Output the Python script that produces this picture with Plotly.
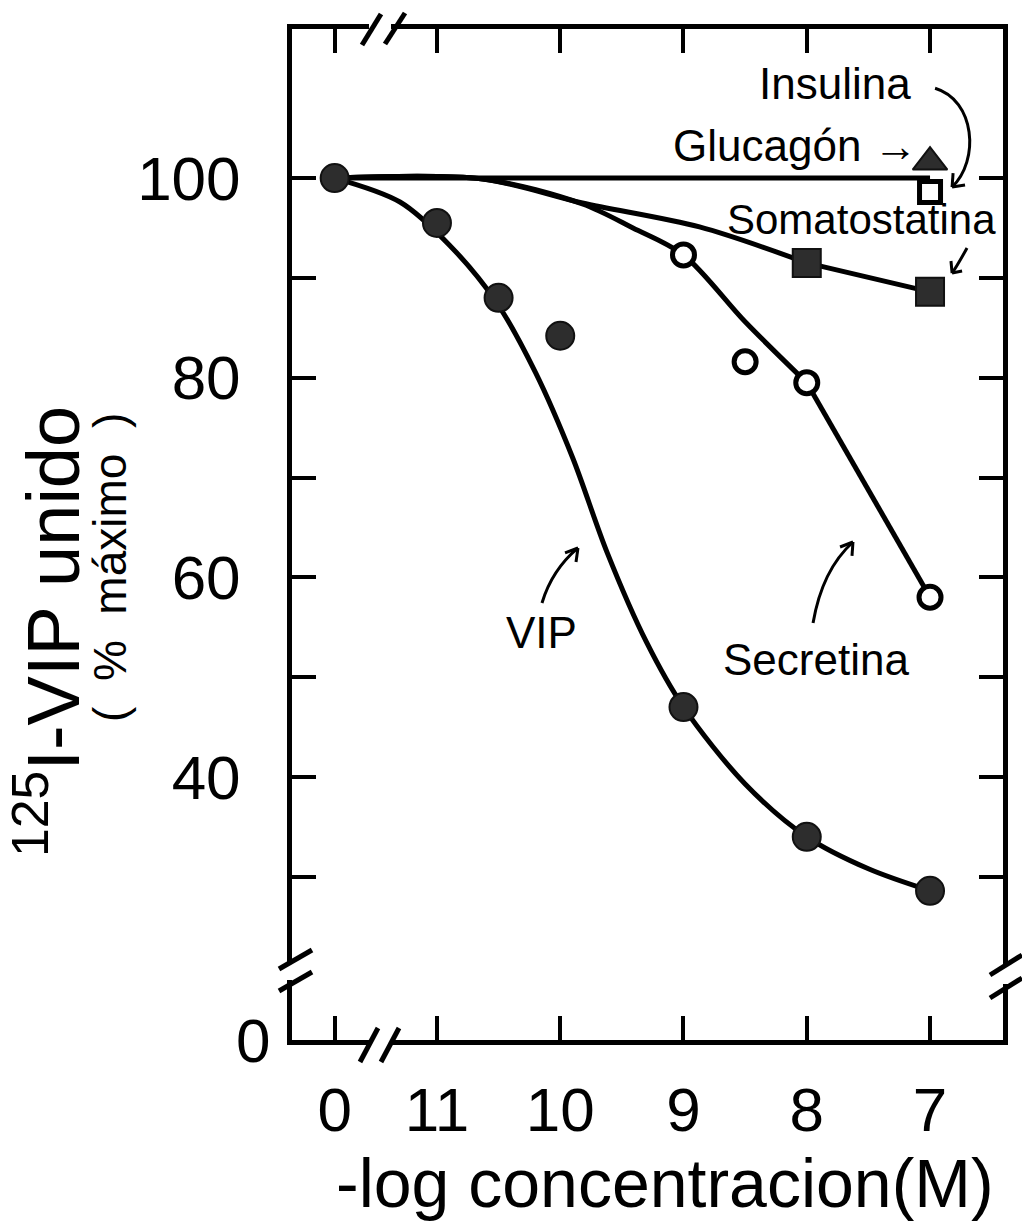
import plotly.graph_objects as go

# ---- axis definitions -------------------------------------------------------
# x is -log[M]; the control (no competitor) sits left of the axis break
CONTROL_POS = 11.83
X_TICK_POS = [CONTROL_POS, 11, 10, 9, 8, 7]
X_TICK_TEXT = ["0", "11", "10", "9", "8", "7"]
Y_TICK_VALS = [100, 90, 80, 70, 60, 50, 40, 30]
Y_TICK_TEXT = ["100", "", "80", "", "60", "", "40", ""]

# ---- measured points (% of maximal 125I-VIP binding) -----------------------
vip_x = [CONTROL_POS, 11, 10.5, 10, 9, 8, 7]
vip_y = [100, 95.5, 88, 84.2, 47, 34, 28.6]

secretina_x = [CONTROL_POS, 9, 8.5, 8, 7]
secretina_y = [100, 92.3, 81.6, 79.5, 58]

somatostatina_x = [8, 7]
somatostatina_y = [91.5, 88.6]

glucagon_x = [7]
glucagon_y = [101.6]

insulina_x = [7]
insulina_y = [98.6]

# no-displacement reference line
ref_x = [CONTROL_POS, 7]
ref_y = [100, 100]

# ---- hand-fitted curves ----------------------------------------------------
vip_fit_x = [CONTROL_POS, 11.3, 10.9, 10.52, 10.2, 9.9, 9.62, 9.3, 9.0, 8.5, 8.0, 7.5, 7.0]
vip_fit_y = [100, 97.6, 93.3, 87.6, 80.5, 72.0, 62.5, 53.5, 47.0, 39.3, 34.0, 30.8, 28.6]

secretina_fit_x = [CONTROL_POS, 10.63, 9.82, 9.41, 9.0, 8.5, 8.0]
secretina_fit_y = [100, 99.9, 97.4, 95.0, 92.3, 85.6, 79.5]

# below 8 the secretina fit runs straight to the last point
secretina_tail_x = [8, 7]
secretina_tail_y = [79.5, 58.0]

somatostatina_fit_x = [CONTROL_POS, 10.63, 9.82, 8.87, 8.0]
somatostatina_fit_y = [100, 99.9, 97.5, 95.1, 91.5]

X_RANGE = [12.176, 6.408]
Y_RANGE = [13.65, 114.93]

# plot-area geometry in pixels (used for frame decorations)
W, H = 1022, 1227
L, R, T, B = 292, 19, 29, 187
PW, PH = W - L - R, H - T - B


def fx(px):
    return (px - L) / PW


def fy(py):
    return (H - B - py) / PH


FONT = "Liberation Sans"
INK = "black"
FILL = "#2d2d2d"

fig = go.Figure()

curve_line = dict(color=INK, width=5)
smooth_line = dict(color=INK, width=5, shape="spline", smoothing=0.9)
fig.add_trace(go.Scatter(x=ref_x, y=ref_y, mode="lines", line=curve_line,
                         hoverinfo="skip"))
fig.add_trace(go.Scatter(x=somatostatina_fit_x, y=somatostatina_fit_y, mode="lines",
                         line=smooth_line, hoverinfo="skip"))
fig.add_trace(go.Scatter(x=somatostatina_x, y=somatostatina_y, mode="lines",
                         line=curve_line, hoverinfo="skip"))
fig.add_trace(go.Scatter(x=secretina_fit_x, y=secretina_fit_y, mode="lines",
                         line=smooth_line, hoverinfo="skip"))
fig.add_trace(go.Scatter(x=secretina_tail_x, y=secretina_tail_y, mode="lines",
                         line=curve_line, hoverinfo="skip"))
fig.add_trace(go.Scatter(x=vip_fit_x, y=vip_fit_y, mode="lines",
                         line=smooth_line, hoverinfo="skip"))

fig.add_trace(go.Scatter(x=secretina_x, y=secretina_y, mode="markers", name="Secretina",
                         marker=dict(symbol="circle", size=22, color="white",
                                     line=dict(color=INK, width=5))))
fig.add_trace(go.Scatter(x=vip_x, y=vip_y, mode="markers", name="VIP",
                         marker=dict(symbol="circle", size=28, color=FILL,
                                     line=dict(color="#111", width=2))))
fig.add_trace(go.Scatter(x=somatostatina_x, y=somatostatina_y, mode="markers",
                         name="Somatostatina",
                         marker=dict(symbol="square", size=28, color=FILL,
                                     line=dict(color="#111", width=2))))
fig.add_trace(go.Scatter(x=glucagon_x, y=glucagon_y, mode="markers", name="Glucagón",
                         marker=dict(symbol="triangle-up", size=30, color=FILL,
                                     line=dict(color="#111", width=2))))
fig.add_trace(go.Scatter(x=insulina_x, y=insulina_y, mode="markers", name="Insulina",
                         marker=dict(symbol="square", size=21, color="white",
                                     line=dict(color=INK, width=5))))

axis_common = dict(showline=True, linewidth=5, linecolor=INK, mirror="ticks",
                   ticks="inside", ticklen=24, tickwidth=4, tickcolor=INK,
                   showgrid=False, zeroline=False,
                   tickfont=dict(family=FONT, size=62, color=INK))

fig.update_xaxes(range=X_RANGE, tickmode="array", tickvals=X_TICK_POS,
                 ticktext=X_TICK_TEXT, ticklabelstandoff=12, **axis_common)
fig.update_yaxes(range=Y_RANGE, tickmode="array", tickvals=Y_TICK_VALS,
                 ticktext=Y_TICK_TEXT, ticklabelstandoff=34, **axis_common)

shapes = []


def gap(x0, y0, x1, y1):
    shapes.append(dict(type="rect", xref="paper", yref="paper", layer="above",
                       x0=fx(x0), x1=fx(x1), y0=fy(y0), y1=fy(y1),
                       fillcolor="white", line=dict(width=0)))


def stroke(x0, y0, x1, y1, width=5):
    shapes.append(dict(type="line", xref="paper", yref="paper", layer="above",
                       x0=fx(x0), x1=fx(x1), y0=fy(y0), y1=fy(y1),
                       line=dict(color=INK, width=width)))


# axis breaks
gap(282, 962, 303, 980)
stroke(279, 969, 312, 950)
stroke(279, 991, 312, 972)
gap(992, 964, 1014, 984)
stroke(990, 975, 1022, 955)
stroke(990, 998, 1022, 978)
gap(369, 1030, 391, 1050)
stroke(360, 1062, 378, 1028)
stroke(381, 1062, 399, 1028)
gap(369, 20, 391, 38)
stroke(362, 45, 381, 14)
stroke(385, 44, 405, 13)


def arrow_path(pts):
    d = "M {} {}".format(*pts[0])
    if len(pts) == 3:
        d += " Q {} {} {} {}".format(*pts[1], *pts[2])
    else:
        d += " C {} {} {} {} {} {}".format(*pts[1], *pts[2], *pts[3])
    return d


def pointer(curve, head):
    shapes.append(dict(type="path", xref="x", yref="y", layer="above",
                       path=arrow_path(curve), line=dict(color=INK, width=3)))
    tip = curve[-1]
    for hx, hy in head:
        shapes.append(dict(type="line", xref="x", yref="y", layer="above",
                           x0=tip[0], y0=tip[1], x1=hx, y1=hy,
                           line=dict(color=INK, width=3)))


# label pointers (data units)
pointer([(10.148, 57.43), (10.067, 60.73), (9.856, 62.94)],
        [(9.961, 62.44), (9.872, 61.53)])
pointer([(7.949, 55.42), (7.876, 60.73), (7.625, 63.54)],
        [(7.730, 63.04), (7.633, 62.14)])
pointer([(6.959, 109.0), (6.635, 107.81), (6.594, 101.80), (6.821, 99.10)],
        [(6.813, 100.5), (6.716, 99.3)])
pointer([(6.70, 92.99), (6.78, 91.2), (6.821, 90.48)],
        [(6.830, 91.69), (6.740, 90.68)])

lab = dict(family=FONT, size=44, color=INK)
annotations = [
    dict(x=10.148, y=54.5, text="VIP", font=lab),
    dict(x=7.925, y=51.8, text="Secretina", font=lab),
    dict(x=7.771, y=109.5, text="Insulina", font=lab),
    dict(x=8.095, y=103.3, text="Glucagón →", font=lab),
    dict(x=7.56, y=95.8, text="Somatostatina", font=dict(family=FONT, size=42, color=INK)),
]
for a in annotations:
    a.update(xref="x", yref="y", showarrow=False, xanchor="center", yanchor="middle")

annotations += [
    dict(xref="paper", yref="paper", x=fx(253), y=fy(1040), text="0",
         font=dict(family=FONT, size=62, color=INK), showarrow=False,
         xanchor="center", yanchor="middle"),
    dict(xref="paper", yref="paper", x=fx(665), y=fy(1183),
         text="-log concentracion(M)", font=dict(family=FONT, size=68, color=INK),
         showarrow=False, xanchor="center", yanchor="middle"),
    dict(xref="paper", yref="paper", x=fx(48), y=fy(632),
         text="<sup>125</sup>I-VIP unido", textangle=-90,
         font=dict(family=FONT, size=74, color=INK), showarrow=False,
         xanchor="center", yanchor="middle"),
    dict(xref="paper", yref="paper", x=fx(110), y=fy(568),
         text="(  %  máximo  )", textangle=-90,
         font=dict(family=FONT, size=46, color=INK), showarrow=False,
         xanchor="center", yanchor="middle"),
]

fig.update_layout(width=W, height=H, margin=dict(l=L, r=R, t=T, b=B),
                  paper_bgcolor="white", plot_bgcolor="white", showlegend=False,
                  shapes=shapes, annotations=annotations)

fig.write_html("out.html")
